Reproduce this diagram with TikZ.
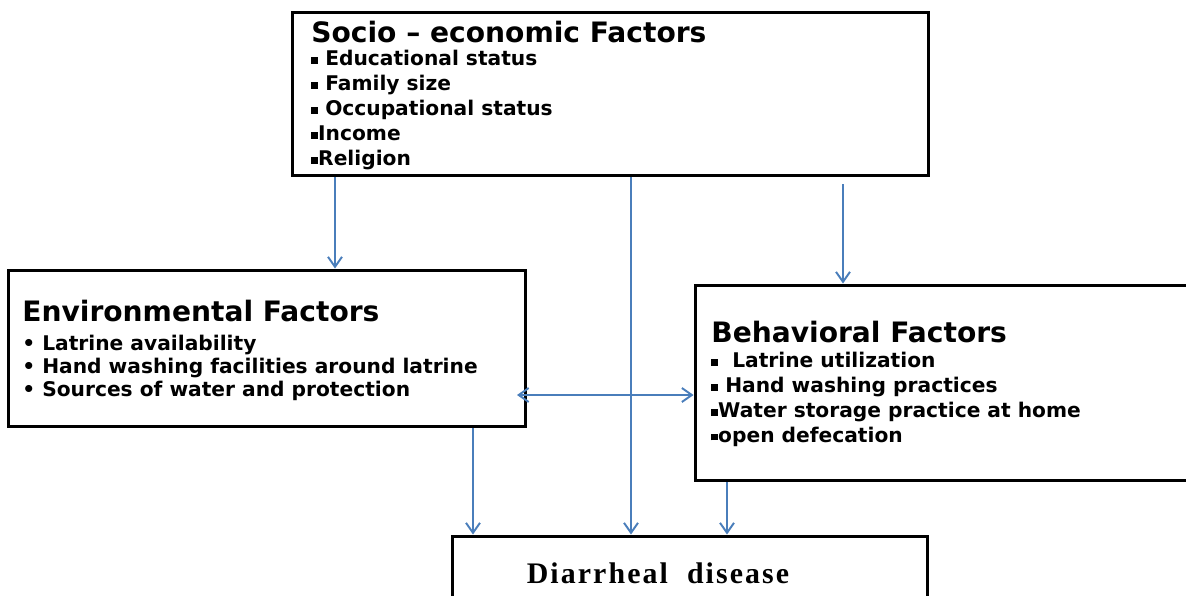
\documentclass[tikz,border=0pt]{standalone}
\usepackage{fontspec}
\setmainfont{DejaVu Sans}
\newfontfamily\diseasefont[LetterSpace=7]{Liberation Serif}
\usepackage{tikz}
\usetikzlibrary{arrows.meta,positioning}
\definecolor{ArrowBlue}{RGB}{74,126,187}
\newcommand{\sqbullet}{\rule[0.1em]{0.34em}{0.34em}}
\newcommand{\headfont}{\fontsize{16}{16}\selectfont\bfseries}

\begin{document}
\begin{tikzpicture}[x=0.02cm, y=-0.02cm,
    box/.style={draw, line width=1.7pt, inner sep=0pt},
    items/.style={align=left, anchor=north west, inner sep=0pt, font=\fontsize{11.5}{14.2}\selectfont\bfseries},
    flow/.style={-{Straight Barb[length=2mm,width=2.8mm]}, ArrowBlue, line width=1.1pt},
    flowboth/.style={{Straight Barb[length=2mm,width=2.8mm]}-{Straight Barb[length=2mm,width=2.8mm]}, ArrowBlue, line width=1.1pt}]
        \useasboundingbox (0,0) rectangle (1186,595);
        \clip (0,0) rectangle (1186,595);
        \node[box, minimum width=12.74cm, minimum height=3.28cm] (socio) at (610.5,94) {};
        \node[box, minimum width=10.36cm, minimum height=3.14cm] (env) at (267,348.5) {};
        \node[box, minimum width=10.2cm, minimum height=3.92cm] (beh) at (950,383) {};
        \node[box, minimum width=9.52cm, minimum height=1.76cm] (dia) at (690,580) {};
        \node[items] (sociotext) at (311,21) {{\headfont Socio -- economic Factors}\\[-1pt]
            \sqbullet\ Educational status\\ \sqbullet\ Family size\\ \sqbullet\ Occupational status\\
            \sqbullet Income\\ \sqbullet Religion};
        \node[items, font=\fontsize{11.5}{13.2}\selectfont\bfseries] (envtext) at (22,300) {{\headfont Environmental Factors}\\[3pt]
            \textbullet\ Latrine availability\\ \textbullet\ Hand washing facilities around latrine\\
            \textbullet\ Sources of water and protection};
        \node[items] (behtext) at (711,321) {{\headfont Behavioral Factors}\\[0pt]
            \sqbullet\ \ Latrine utilization\\ \sqbullet\ Hand washing practices\\
            \sqbullet Water storage practice at home\\ \sqbullet open defecation};
        \node[font=\fontsize{17}{20}\selectfont\diseasefont\bfseries] (diatext) at (658,573) {Diarrheal\ \ disease};
        \coordinate (soc2env) at (335,0);
        \coordinate (soc2dia) at (631,0);
        \coordinate (soc2beh) at (843,184);
        \coordinate (env2dia) at (473,0);
        \coordinate (beh2dia) at (727,0);
        \coordinate (envbeh) at (517,395);
        \draw[flow] (socio.south -| soc2env) -- (env.north -| soc2env);
        \draw[flow] (socio.south -| soc2dia) -- (dia.north -| soc2dia);
        \draw[flow] (soc2beh) -- (beh.north -| soc2beh);
        \draw[flow] (env.south -| env2dia) -- (dia.north -| env2dia);
        \draw[flow] (beh.south -| beh2dia) -- (dia.north -| beh2dia);
        \draw[flowboth] (envbeh) -- (beh.west |- envbeh);
\end{tikzpicture}
\end{document}
